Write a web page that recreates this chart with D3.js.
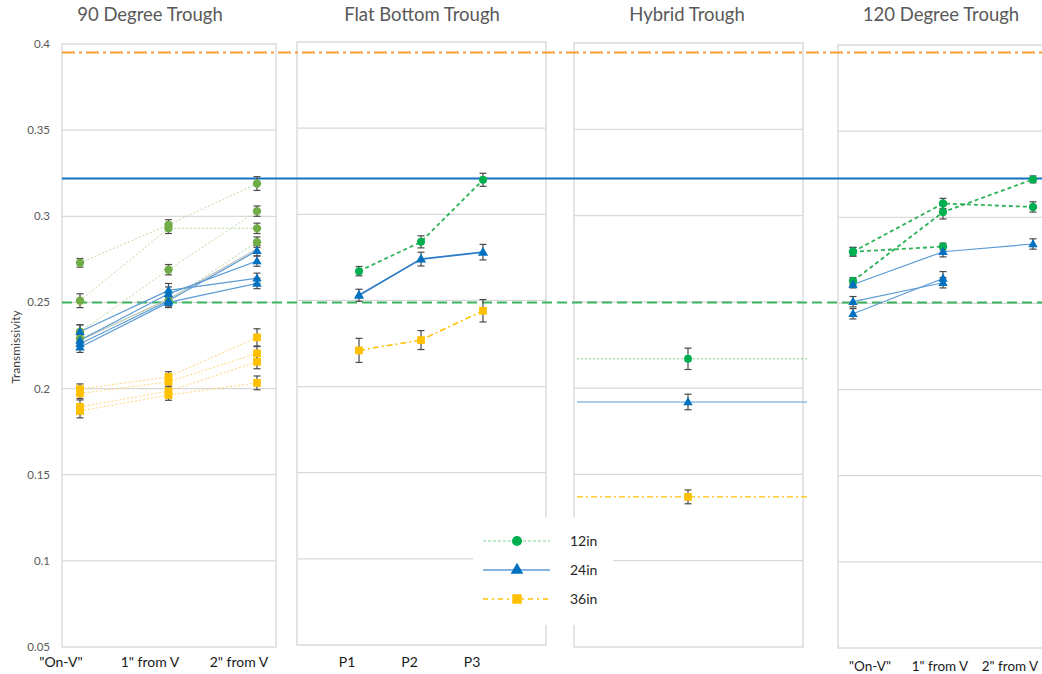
<!DOCTYPE html>
<html><head><meta charset="utf-8">
<script src="https://cdn.jsdelivr.net/npm/d3@7"></script>
<style>body{margin:0;background:#fff;overflow:hidden}</style>
</head><body><svg id="c" width="1042" height="674"></svg>
<script>
// ---------------- DATA ----------------
const yTicks = [0.05, 0.1, 0.15, 0.2, 0.25, 0.3, 0.35, 0.4];
const panelTitles = ["90 Degree Trough", "Flat Bottom Trough", "Hybrid Trough", "120 Degree Trough"];
const cats90 = ['"On-V"', '1" from V', '2" from V'];
const catsFlat = ["P1", "P2", "P3"];
const cats120 = ['"On-V"', '1" from V', '2" from V'];
const legendLabels = ["12in", "24in", "36in"];
const yAxisTitle = "Transmissivity";

// reference (baseline) lines: 12in, 24in, 36in
const refValues = [0.25, 0.322, 0.395];

// 90 degree trough
const t90_12in = [[0.273, 0.295, 0.319], [0.251, 0.293, 0.293], [0.233, 0.269, 0.303], [0.229, 0.251, 0.285]];
const t90_12inErr = [[0.0025, 0.003, 0.004], [0.004, 0.003, 0.003], [0.004, 0.003, 0.003], [0.003, 0.003, 0.003]];
const t90_24in = [[0.233, 0.257, 0.264], [0.228, 0.255, 0.274], [0.226, 0.251, 0.280], [0.224, 0.250, 0.261]];
const t90_24inErr = [[0.004, 0.004, 0.003], [0.003, 0.004, 0.003], [0.003, 0.003, 0.003], [0.003, 0.003, 0.003]];
const t90_36in = [[0.1997, 0.2068, 0.2297], [0.1972, 0.2039, 0.2204], [0.1894, 0.1985, 0.2155], [0.1870, 0.1962, 0.2033]];
const t90_36inErr = [[0.003, 0.003, 0.005], [0.003, 0.003, 0.004], [0.004, 0.003, 0.004], [0.004, 0.003, 0.004]];
const t90_gray = [0.228, 0.252, 0.281];

// flat bottom trough
const flat_12in = [0.267, 0.284, 0.320];
const flat_12inErr = [0.0027, 0.0035, 0.0038];
const flat_24in = [0.253, 0.274, 0.278];
const flat_24inErr = [0.0035, 0.004, 0.0045];
const flat_36in = [0.221, 0.227, 0.244];
const flat_36inErr = [0.007, 0.0055, 0.0065];

// hybrid trough (single measurement)
const hybridValues = [0.217, 0.192, 0.137];
const hybridErr = [0.0062, 0.0045, 0.004];

// 120 degree trough
const t120_12in = [[0.280, 0.308, 0.306], [0.280, 0.283, null], [0.263, 0.303, 0.322]];
const t120_12inErr = [[0.0025, 0.003, 0.003], [0.0025, 0.002, 0], [0.002, 0.004, 0.002]];
const t120_24in = [[0.261, 0.280, 0.2845], [0.251, 0.262, null], [0.244, 0.2645, null]];
const t120_24inErr = [[0.002, 0.003, 0.003], [0.003, 0.003, 0], [0.003, 0.004, 0]];

// ---------------- STYLE ----------------
const C = {
  grid: "#d9d9d9", text: "#595959", err: "#4a4a4a",
  green: "#00B050", green90: "#70AD47", blue: "#0070C0", blueLine: "#5B9BD5", yellow: "#FFC000",
  refOrange: "#F99C34", refBlue: "#1670C2", refGreen: "#3CB35F"
};
const FONT = "Lato, 'Open Sans', sans-serif";
const svg = d3.select("#c");

const panels = [
  {x0: 62, x1: 276, top: 44, bot: 647, pt: [80, 257], lab: [61, 239], cats: cats90, labY: 667},
  {x0: 297, x1: 546, top: 42, bot: 645, pt: [359, 483], lab: [347, 472], cats: catsFlat, labY: 667},
  {x0: 574, x1: 803, top: 43, bot: 647, pt: [688, 688], lab: null, cats: null},
  {x0: 838, x1: 1060, top: 45, bot: 648, pt: [853, 1033], lab: [870, 1010], cats: cats120, labY: 671}
];
const titleX = [150, 422, 687, 941];
panels.forEach(p => {
  p.y = d3.scaleLinear().domain([0.05, 0.4]).range([p.bot, p.top]);
  if (p.cats) {
    p.x = d3.scalePoint().domain(p.cats).range(p.pt);
    p.xl = d3.scalePoint().domain(p.cats).range(p.lab);
  }
});

const gBack = svg.append("g"), gRef = svg.append("g"), gData = svg.append("g"), gTop = svg.append("g");

// panel frames & gridlines
panels.forEach(p => {
  gBack.selectAll(null).data(yTicks.slice(1, -1)).enter().append("line")
    .attr("x1", p.x0).attr("x2", p.x1).attr("y1", d => p.y(d)).attr("y2", d => p.y(d))
    .attr("stroke", C.grid).attr("stroke-width", 1.3);
  gBack.append("rect").attr("x", p.x0).attr("y", p.top).attr("width", p.x1 - p.x0).attr("height", p.bot - p.top)
    .attr("fill", "none").attr("stroke", C.grid).attr("stroke-width", 1.4);
});
// legend box knocks out the grid
gBack.append("rect").attr("x", 473).attr("y", 517).attr("width", 140).attr("height", 108).attr("fill", "#fff");

// reference lines
const y0 = panels[0].y;
const refStyles = [
  {c: C.refGreen, dash: "10,5", w: 2},
  {c: C.refBlue, dash: null, w: 2},
  {c: C.refOrange, dash: "13,4,3,4", w: 2}
];
gRef.selectAll(null).data(refValues).enter().append("line")
  .attr("x1", 62).attr("x2", 1042).attr("y1", d => y0(d)).attr("y2", d => y0(d))
  .attr("stroke", (d, i) => refStyles[i].c).attr("stroke-width", (d, i) => refStyles[i].w)
  .attr("stroke-dasharray", (d, i) => refStyles[i].dash);

// helpers
function drawLine(p, vals, st) {
  const line = d3.line().defined(d => d != null).x((d, i) => p.x(p.cats[i])).y(d => p.y(d));
  gData.append("path").datum(vals).attr("d", line).attr("fill", "none")
    .attr("stroke", st.c).attr("stroke-width", st.w).attr("stroke-dasharray", st.dash);
}
const markerLayer = [];
function drawPoints(p, xs, vals, errs, shape, color, size) {
  vals.forEach((v, i) => {
    if (v == null) return;
    const x = xs[i], e = errs[i];
    if (e > 0) {
      const g = gData.append("g").attr("stroke", C.err).attr("stroke-width", 1.2);
      g.append("line").attr("x1", x).attr("x2", x).attr("y1", p.y(v - e)).attr("y2", p.y(v + e));
      g.append("line").attr("x1", x - 3.5).attr("x2", x + 3.5).attr("y1", p.y(v - e)).attr("y2", p.y(v - e));
      g.append("line").attr("x1", x - 3.5).attr("x2", x + 3.5).attr("y1", p.y(v + e)).attr("y2", p.y(v + e));
    }
    markerLayer.push({x, y: p.y(v), shape, color, size});
  });
}
const sym = {c: d3.symbolCircle, t: d3.symbolTriangle, s: d3.symbolSquare};

// ---- 90 degree
const P0 = panels[0], xs0 = cats90.map(c => P0.x(c));
drawLine(P0, t90_gray, {c: "#bfbfbf", w: 1.2, dash: null});
t90_36in.forEach(s => drawLine(P0, s, {c: "#FFD57A", w: 1, dash: "2,2"}));
t90_12in.forEach(s => drawLine(P0, s, {c: "#B9DCA0", w: 1, dash: "2,2"}));
t90_24in.forEach(s => drawLine(P0, s, {c: C.blueLine, w: 1.2, dash: null}));
t90_36in.forEach((s, k) => drawPoints(P0, xs0, s, t90_36inErr[k], "s", C.yellow, 60));
t90_12in.forEach((s, k) => drawPoints(P0, xs0, s, t90_12inErr[k], "c", C.green90, 55));
t90_24in.forEach((s, k) => drawPoints(P0, xs0, s, t90_24inErr[k], "t", C.blue, 38));

// ---- flat bottom
const P1 = panels[1], xs1 = catsFlat.map(c => P1.x(c));
drawLine(P1, flat_36in, {c: C.yellow, w: 1.5, dash: "6,3,2,3"});
drawLine(P1, flat_12in, {c: "#2DB357", w: 1.8, dash: "4,3"});
drawLine(P1, flat_24in, {c: "#2E7BC8", w: 1.8, dash: null});
drawPoints(P1, xs1, flat_36in, flat_36inErr, "s", C.yellow, 60);
drawPoints(P1, xs1, flat_12in, flat_12inErr, "c", C.green, 50);
drawPoints(P1, xs1, flat_24in, flat_24inErr, "t", C.blue, 45);

// ---- hybrid
const P2 = panels[2];
const hybStyles = [
  {c: "#7FD195", w: 1, dash: "2,2", shape: "c", mc: C.green, size: 50},
  {c: C.blueLine, w: 1.1, dash: null, shape: "t", mc: C.blue, size: 38},
  {c: C.yellow, w: 1.2, dash: "6,3,2,3", shape: "s", mc: C.yellow, size: 60}
];
hybridValues.forEach((v, i) => {
  const st = hybStyles[i];
  gData.append("line").attr("x1", 577).attr("x2", 807).attr("y1", P2.y(v)).attr("y2", P2.y(v))
    .attr("stroke", st.c).attr("stroke-width", st.w).attr("stroke-dasharray", st.dash);
  drawPoints(P2, [P2.pt[0]], [v], [hybridErr[i]], st.shape, st.mc, st.size);
});

// ---- 120 degree
const P3 = panels[3], xs3 = cats120.map(c => P3.x(c));
t120_12in.forEach(s => drawLine(P3, s, {c: "#2DB357", w: 1.8, dash: "4,3"}));
t120_24in.forEach(s => drawLine(P3, s, {c: C.blueLine, w: 1.2, dash: null}));
t120_12in.forEach((s, k) => drawPoints(P3, xs3, s, t120_12inErr[k], "c", C.green, 55));
t120_24in.forEach((s, k) => drawPoints(P3, xs3, s, t120_24inErr[k], "t", C.blue, 38));

// markers on top
gData.selectAll(null).data(markerLayer).enter().append("path")
  .attr("d", d => d3.symbol().type(sym[d.shape]).size(d.size)())
  .attr("transform", d => `translate(${d.x},${d.y + (d.shape === "t" ? 0.5 : 0)})`)
  .attr("fill", d => d.color);

// ---- text
gTop.selectAll(null).data(panelTitles).enter().append("text")
  .attr("x", (d, i) => titleX[i]).attr("y", 21).attr("text-anchor", "middle")
  .attr("font-family", FONT).attr("font-size", 18.5).attr("fill", C.text).text(d => d);

gTop.selectAll(null).data(yTicks).enter().append("text")
  .attr("x", 50).attr("y", d => P0.y(d)).attr("dy", "0.35em").attr("text-anchor", "end")
  .attr("font-family", FONT).attr("font-size", 11.5).attr("fill", C.text).text(d => d);

gTop.append("text").attr("transform", "translate(20,347) rotate(-90)").attr("text-anchor", "middle")
  .attr("font-family", FONT).attr("font-size", 12).attr("fill", "#404040").text(yAxisTitle);

[P0, P1, P3].forEach(p => {
  gTop.selectAll(null).data(p.cats).enter().append("text")
    .attr("x", d => p.xl(d)).attr("y", p.labY).attr("text-anchor", "middle")
    .attr("font-family", FONT).attr("font-size", p === P3 ? 13.5 : 14).attr("fill", "#1a1a1a").text(d => d);
});

// ---- legend
const legStyles = [
  {c: "#7FD195", w: 1.2, dash: "3,2", shape: "c", mc: C.green, size: 80},
  {c: C.blueLine, w: 1.4, dash: null, shape: "t", mc: C.blue, size: 70},
  {c: C.yellow, w: 1.6, dash: "5,4,2,4", shape: "s", mc: C.yellow, size: 90}
];
const legY = d3.scalePoint().domain(legendLabels).range([541, 599]);
legendLabels.forEach((lab, i) => {
  const st = legStyles[i], yy = legY(lab);
  gTop.append("line").attr("x1", 483).attr("x2", 550).attr("y1", yy).attr("y2", yy)
    .attr("stroke", st.c).attr("stroke-width", st.w).attr("stroke-dasharray", st.dash);
  gTop.append("path").attr("d", d3.symbol().type(sym[st.shape]).size(st.size)())
    .attr("transform", `translate(517,${yy})`).attr("fill", st.mc);
  gTop.append("text").attr("x", 570).attr("y", yy).attr("dy", "0.35em")
    .attr("font-family", FONT).attr("font-size", 14).attr("fill", "#262626").text(lab);
});
</script></body></html>
